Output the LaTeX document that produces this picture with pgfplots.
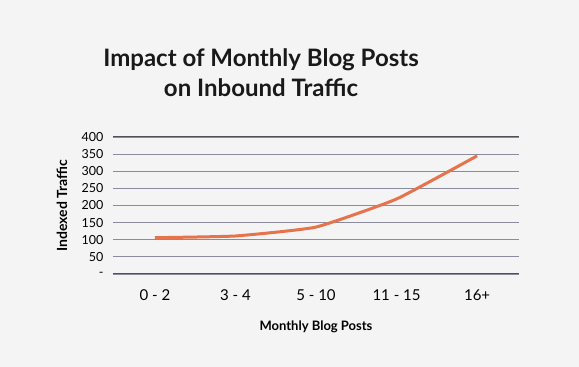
\documentclass[border=0pt]{standalone}
\usepackage{pgfplots}
\pgfplotsset{compat=1.18}
\usepackage{fontspec}
\setmainfont{Lato}
\definecolor{bg}{HTML}{F4F4F4}
\definecolor{gridc}{HTML}{8A8C9E}
\definecolor{gridd}{HTML}{50505C}
\definecolor{linec}{HTML}{E6734B}
\begin{document}
\begin{tikzpicture}[x=1pt,y=1pt]
\fill[bg] (0,0) rectangle (579,367);
\node[align=center, font=\fontsize{24}{30}\selectfont\bfseries, text=black!90] at (261,294) {Impact of Monthly Blog Posts\\on Inbound Traffic};
\begin{axis}[
  at={(113pt,93pt)}, anchor=south west,
  scale only axis, width=406pt, height=137pt,
  xmin=-0.52, xmax=4.52, ymin=0, ymax=400,
  axis line style={draw=none},
  major tick length=0pt,
  xtick={0,1,2,3,4},
  xticklabels={0 - 2, 3 - 4, 5 - 10, 11 - 15, 16+},
  ytick={0,50,...,400},
  yticklabels={-,50,100,150,200,250,300,350,400},
  ymajorgrids,
  grid style={gridc, line width=1.2pt},
  xticklabel style={font=\fontsize{15}{18}\selectfont, anchor=center, yshift=-21pt},
  yticklabel style={font=\fontsize{12.5}{14}\selectfont, anchor=east, xshift=-6pt},
  xlabel={Monthly Blog Posts},
  ylabel={Indexed Traffic},
  xlabel style={font=\fontsize{13}{15}\selectfont\bfseries, at={(axis description cs:0.5,-0.387)}, anchor=center},
  ylabel style={font=\fontsize{14}{16}\selectfont\bfseries, at={(axis description cs:-0.1256,0.5)}, anchor=center},
  clip=false,
]
\draw[gridd, line width=1pt] (axis cs:-0.52,400) -- (axis cs:4.52,400);
\draw[gridd, line width=1pt] (axis cs:-0.52,0) -- (axis cs:4.52,0);
\addplot[linec, line width=3pt, smooth, tension=0.25] coordinates {(0,106) (1,111) (2,137) (3,219) (4,345)};
\end{axis}
\end{tikzpicture}
\end{document}
